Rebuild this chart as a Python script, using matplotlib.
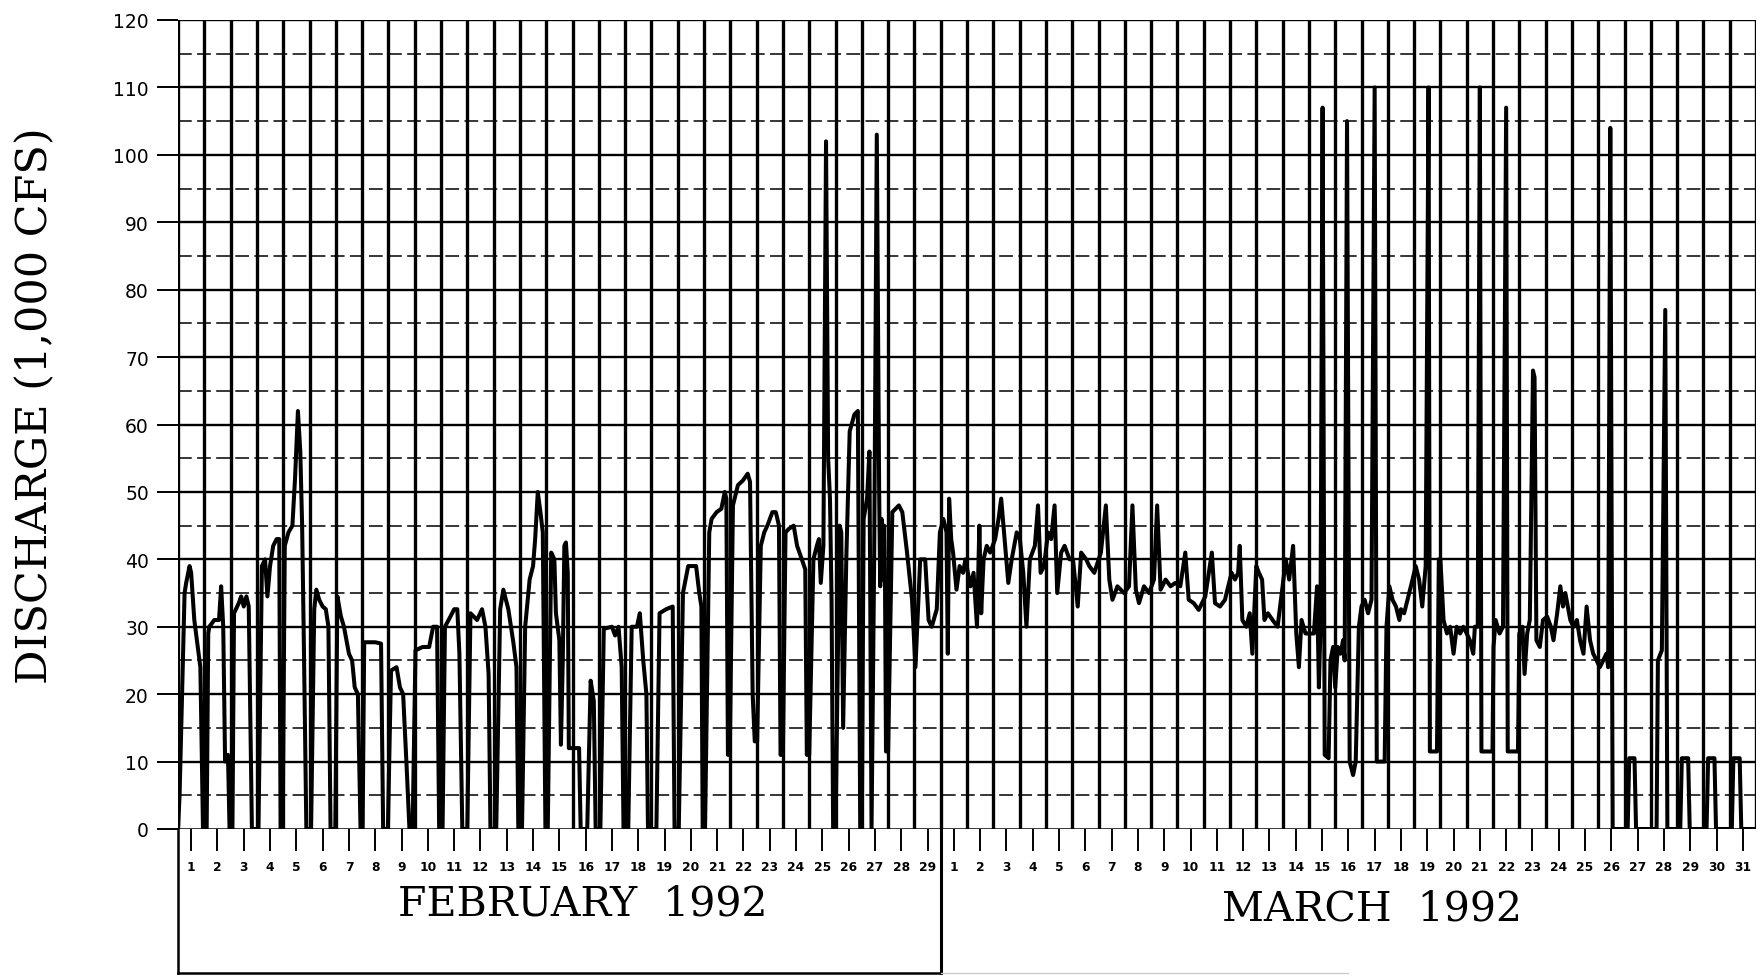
import numpy as np
import matplotlib
matplotlib.use("Agg")
import matplotlib.pyplot as plt

# ---------------- data (days since start of month, discharge in 1,000 cfs) -------------
feb_days = [0.00, 0.06, 0.25, 0.31, 0.44, 0.50, 0.62, 0.75, 0.85, 0.95,
            1.09, 1.15, 1.19, 1.38, 1.56, 1.64, 1.72, 1.79, 1.90, 1.96,
            2.07, 2.13, 2.31, 2.40, 2.50, 2.60, 2.69, 2.81,
            3.06, 3.19, 3.31, 3.40, 3.50, 3.62, 3.75, 3.85, 3.90, 3.98,
            4.06, 4.20, 4.35, 4.45, 4.56, 4.65, 4.72, 4.78, 4.88,
            5.06, 5.18, 5.26, 5.37, 5.50, 5.62, 5.72, 5.80, 5.98,
            6.06, 6.19, 6.31, 6.50, 6.62, 6.72, 6.84, 6.94,
            7.02, 7.08, 7.50, 7.72, 7.80, 7.98,
            8.10, 8.31, 8.44, 8.56, 8.69, 8.80, 8.92,
            9.03, 9.30, 9.55, 9.70, 9.85, 9.93,
            10.06, 10.15, 10.37, 10.50, 10.62, 10.70, 10.81,
            11.00, 11.12, 11.25, 11.37, 11.56, 11.69, 11.81, 11.88,
            12.10, 12.25, 12.37, 12.56, 12.75, 12.87, 12.94,
            13.08, 13.20, 13.37, 13.50, 13.58, 13.68, 13.78, 13.87, 13.97,
            14.06, 14.19, 14.31, 14.37, 14.50, 14.56, 14.63, 14.69, 14.75, 14.82, 14.86,
            15.25, 15.31, 15.56, 15.69, 15.81, 15.88,
            16.06, 16.19, 16.50, 16.62, 16.75, 16.87, 16.94,
            17.12, 17.25, 17.45, 17.56, 17.69, 17.81, 17.87,
            18.19, 18.31, 18.56, 18.81, 18.88,
            19.04, 19.20, 19.40, 19.70, 19.82, 19.90, 19.95,
            20.04, 20.20, 20.29, 20.48, 20.66, 20.79, 20.85, 20.91, 20.98,
            21.10, 21.29, 21.48, 21.66, 21.75, 21.85, 21.93,
            22.02, 22.16, 22.29, 22.41, 22.60, 22.73, 22.85, 22.91,
            23.00, 23.10, 23.22, 23.41, 23.54, 23.72, 23.85, 23.91,
            24.00, 24.16, 24.29, 24.37, 24.44, 24.54, 24.64, 24.72, 24.79, 24.85, 24.91,
            25.00, 25.16, 25.22, 25.29, 25.41, 25.54, 25.72, 25.85, 25.94,
            26.00, 26.07, 26.20, 26.29, 26.37, 26.47, 26.57, 26.66, 26.70, 26.75, 26.80,
            26.85, 26.88, 26.92,
            27.00, 27.16, 27.41, 27.54, 27.72, 27.91,
            28.04, 28.22, 28.41, 28.54, 28.66, 28.85, 28.97]
feb_flow = [0, 5, 35, 36.5, 39, 38, 31, 27, 24, 0,
            0, 29, 30, 31, 31, 36, 30, 10, 11, 0,
            0, 32, 33.5, 34.5, 33, 34.5, 33, 0,
            0, 39, 40, 34.5, 39, 42, 43, 43, 0, 0,
            42, 44, 45, 52, 62, 56, 45, 29, 0,
            0, 32.6, 35.5, 34, 33, 32.6, 30, 0, 0,
            34.5, 31.6, 30, 26, 25, 21, 20, 0,
            0, 27.7, 27.7, 27.5, 0, 0,
            23.5, 24, 21, 20, 9.5, 0, 0,
            26.5, 27, 27, 30, 30, 0,
            0, 30, 31.6, 32.6, 32.6, 26, 0,
            0, 32, 31.5, 31, 32.6, 30, 23, 0,
            0, 32.6, 35.5, 32.6, 27.7, 24, 0,
            0, 30, 37, 39, 43, 50, 47, 44, 0,
            0, 41, 40, 32, 28, 12.5, 25, 42, 42.5, 38, 12,
            12, 0, 0, 22, 19, 0,
            0, 29.7, 30, 28.7, 30, 24, 0,
            0, 30, 30, 32, 25, 20, 0,
            0, 32, 32.6, 33, 0,
            0, 35, 39, 39, 35, 33, 0,
            0, 44, 46, 47, 47.5, 50, 49, 11, 11,
            48, 51, 51.7, 52.7, 51.5, 20, 13,
            13, 42, 44, 45, 47, 47, 45, 11,
            11, 44, 44.5, 45, 42, 40, 38.5, 11,
            11, 40, 42, 43, 36.5, 42, 102, 55, 49, 34, 0,
            0, 45, 44, 15, 40, 59, 61.5, 62, 0,
            0, 46, 49, 56, 0, 40, 103, 50, 36, 46, 37,
            45, 38, 11.5,
            11.5, 47, 48, 47, 41, 34,
            24, 40, 40, 31, 30, 32.6, 44]

mar_days = [0.10, 0.22, 0.27, 0.32, 0.40, 0.47, 0.60, 0.72, 0.85, 0.94,
            1.13, 1.25, 1.38, 1.47, 1.54, 1.63, 1.75, 1.88,
            2.07, 2.20, 2.30, 2.45, 2.57, 2.70, 2.89,
            3.01, 3.14, 3.26, 3.39, 3.58, 3.70, 3.80, 3.93,
            4.08, 4.20, 4.33, 4.43, 4.58, 4.71, 4.90,
            5.03, 5.21, 5.34, 5.53, 5.65, 5.84,
            6.09, 6.28, 6.41, 6.53, 6.72, 6.97,
            7.16, 7.29, 7.42, 7.54, 7.73, 7.92,
            8.11, 8.23, 8.36, 8.55, 8.74, 8.92,
            9.11, 9.30, 9.43, 9.62, 9.81,
            10.06, 10.31, 10.43, 10.62, 10.81, 10.87,
            11.06, 11.19, 11.31, 11.37, 11.47, 11.62, 11.75, 11.85,
            12.00, 12.10, 12.22, 12.31, 12.44, 12.62, 12.81,
            13.00, 13.12, 13.25, 13.40, 13.52, 13.62, 13.72, 13.87,
            14.06, 14.19, 14.31, 14.38, 14.44, 14.52, 14.60, 14.75, 14.82, 14.92,
            15.00, 15.10, 15.20, 15.30, 15.36, 15.45, 15.55, 15.68, 15.78, 15.90,
            16.00, 16.12, 16.25, 16.38, 16.50, 16.58, 16.88, 16.95,
            17.06, 17.18, 17.31, 17.44, 17.50, 17.62, 17.75, 17.94,
            18.06, 18.19, 18.31, 18.44, 18.55, 18.60, 18.87, 18.94,
            19.00, 19.12, 19.25, 19.37, 19.50, 19.62, 19.75, 19.87,
            20.00, 20.12, 20.25, 20.31, 20.42, 20.50, 20.56, 20.98,
            21.02, 21.10, 21.25, 21.38, 21.50, 21.56, 21.95,
            22.00, 22.12, 22.20, 22.30, 22.40, 22.52, 22.58, 22.65, 22.78, 22.90,
            23.06, 23.20, 23.30, 23.44, 23.56, 23.66, 23.75, 23.94,
            24.06, 24.19, 24.31, 24.44, 24.56, 24.69, 24.81, 24.94,
            25.06, 25.19, 25.31, 25.38, 25.46, 25.55,
            26.12, 26.18, 26.38, 26.44,
            27.22, 27.27, 27.42, 27.55, 27.63,
            28.12, 28.18, 28.42, 28.48,
            29.12, 29.18, 29.42, 29.48,
            30.08, 30.14, 30.38, 30.44, 31.00]
mar_flow = [46, 44, 26, 49, 43, 41, 35.5, 39, 38, 40,
            36, 38, 30, 45, 32, 40, 42, 41,
            43, 46, 49, 42, 36.5, 40, 44,
            43, 38, 30, 40, 42, 48, 38, 39,
            44, 43, 48, 35, 41, 42, 40,
            40, 33, 41, 40, 39, 38,
            41, 48, 37, 34, 36, 35,
            36, 48, 35.5, 33.5, 36, 35,
            37, 48, 35.5, 37, 36, 36.5,
            36, 41, 34, 33.5, 32.5,
            34.5, 41, 33.5, 33, 34, 35,
            38, 37, 38, 42, 31, 30, 32, 26,
            39, 38, 37, 31, 32, 31, 30,
            36, 40, 37, 42, 29, 24, 31, 29,
            29, 29, 36, 21, 30, 107, 11, 10.5, 25, 27,
            21, 27, 26, 28, 25, 105, 10, 8, 10, 30,
            33, 34, 32, 34, 110, 10, 10, 30,
            36, 34, 33, 31, 32.6, 32, 34, 37,
            39, 37, 33, 39, 110, 11.5, 11.5, 40,
            40, 31, 29, 30, 26, 30, 29, 30,
            29, 28, 26, 30, 30, 110, 11.5, 11.5,
            27, 31, 29, 30, 107, 11.5, 11.5,
            29, 30, 23, 29, 31, 68, 67, 28, 27, 31,
            31.5, 30, 28, 32, 36, 33, 35, 31,
            30, 31, 28, 26, 33, 28, 26, 25,
            24, 25, 26, 24, 104, 0,
            0, 10.5, 10.5, 0,
            0, 25, 26.5, 77, 0,
            0, 10.5, 10.5, 0,
            0, 10.5, 10.5, 0,
            0, 10.5, 10.5, 0, 0]

feb_day_labels = [str(i) for i in range(1, 30)]
mar_day_labels = [str(i) for i in range(1, 32)]
month_titles = ["FEBRUARY  1992", "MARCH  1992"]
y_tick_values = list(range(0, 121, 10))
y_axis_title = "DISCHARGE (1,000 CFS)"

# ---------------- layout ----------------
W, H, DPI = 1757, 979, 100
FEB_LEN, MAR_LEN = len(feb_day_labels), len(mar_day_labels)
N_DAYS = FEB_LEN + MAR_LEN
left_px, day_px = 178, 26.3
y0_px, ytop_px = 830, 21
box_bottom_px = 974
px_per_unit = (y0_px - ytop_px) / 120.0

fig = plt.figure(figsize=(W / DPI, H / DPI), dpi=DPI)
fig.patch.set_facecolor("white")
ax = fig.add_axes([left_px / W, (H - y0_px) / H, day_px * N_DAYS / W,
                   (y0_px - ytop_px) / H])
ax.set_xlim(0, N_DAYS)
ax.set_ylim(0, 120)
for s in ax.spines.values():
    s.set_visible(False)

# grid: solid every 10, dashed every 5, vertical at each day boundary
for v in range(10, 121, 10):
    ax.axhline(v, color="black", lw=1.7, zorder=1)
for v in range(5, 120, 10):
    ax.axhline(v, color="black", lw=1.1, dashes=(9, 3.5), zorder=1)
for i in range(0, N_DAYS + 1):
    ax.axvline(i, color="black", lw=2.4, zorder=1)
ax.axhline(0, color="black", lw=1.8, zorder=1)

# data line
x_all = np.concatenate([np.array(feb_days), np.array(mar_days) + FEB_LEN])
y_all = np.concatenate([np.array(feb_flow), np.array(mar_flow)])
ax.plot(x_all, y_all, color="black", lw=2.9, solid_joinstyle="round",
        solid_capstyle="round", zorder=3)

# y axis ticks
ax.set_yticks(y_tick_values)
ax.set_yticklabels([str(v) for v in y_tick_values])
ax.tick_params(axis="y", direction="out", length=15, width=1.4, pad=6,
               labelsize=13.5, colors="black")

# x axis day ticks at mid-day
ax.set_xticks([i + 0.5 for i in range(N_DAYS)])
ax.set_xticklabels(feb_day_labels + mar_day_labels)
ax.tick_params(axis="x", direction="out", length=16, width=1.4, pad=6,
               labelsize=8.8, colors="black")
for lbl in ax.get_xticklabels():
    lbl.set_fontweight("bold")

# lower label box
ybot = -(box_bottom_px - y0_px) / px_per_unit
ax.plot([0, 0], [0, ybot], color="black", lw=1.8, clip_on=False)
ax.plot([FEB_LEN, FEB_LEN], [0, ybot], color="black", lw=2.2, clip_on=False)
ax.plot([0, FEB_LEN], [ybot, ybot], color="black", lw=1.8, clip_on=False)
ax.plot([FEB_LEN, FEB_LEN + 15.5], [ybot, ybot], color="0.8", lw=1.0,
        clip_on=False)

ax.text(FEB_LEN / 2 + 0.9, -(905 - y0_px) / px_per_unit, month_titles[0],
        ha="center", va="center", fontsize=29.5, family="DejaVu Serif",
        color="black")
ax.text(FEB_LEN + MAR_LEN / 2 + 0.9, -(910 - y0_px) / px_per_unit,
        month_titles[1], ha="center", va="center", fontsize=29.5,
        family="DejaVu Serif", color="black")

fig.text(35 / W, 1 - 406 / H, y_axis_title, rotation=90, ha="center",
         va="center", fontsize=31, family="DejaVu Serif", color="black")

fig.savefig("out.png", dpi=DPI, facecolor="white")
